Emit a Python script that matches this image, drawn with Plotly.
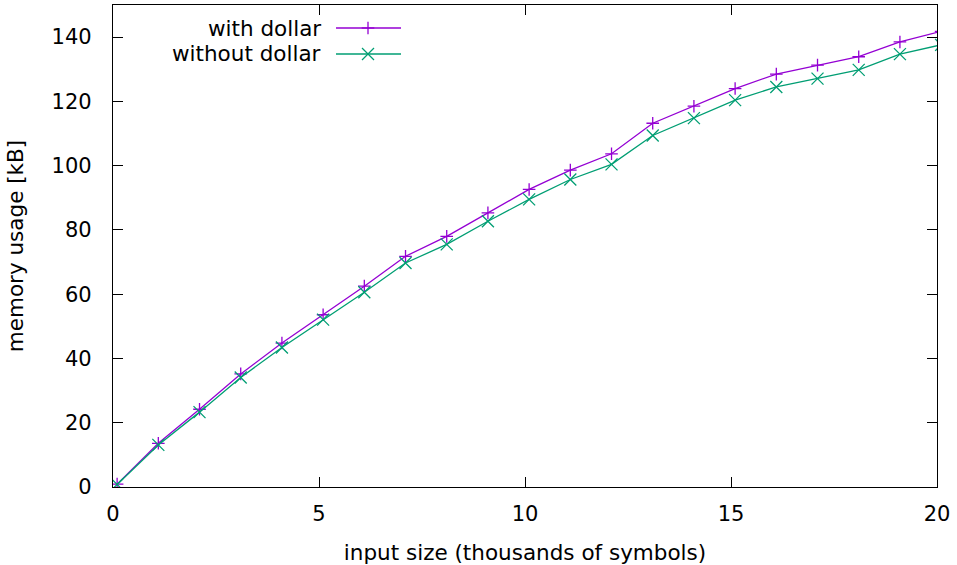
import plotly.graph_objects as go

# input sizes (thousands of symbols)
input_size = [0.1, 1.1, 2.1, 3.1, 4.1, 5.1, 6.1, 7.1, 8.1, 9.1, 10.1,
              11.1, 12.1, 13.1, 14.1, 15.1, 16.1, 17.1, 18.1, 19.1, 20.1]
with_dollar = [0.9, 13.6, 24.2, 35.2, 44.8, 53.6, 62.5, 71.8, 78.0, 85.3, 92.6,
               98.6, 103.7, 113.2, 118.5, 124.0, 128.5, 131.3, 133.9, 138.5, 141.8]
without_dollar = [0.8, 13.1, 23.3, 34.1, 43.4, 52.1, 60.6, 69.7, 75.5, 82.7, 89.5,
                  95.7, 100.4, 109.4, 114.8, 120.4, 124.5, 127.1, 129.8, 134.7, 137.6]
series_names = ["with dollar", "without dollar"]
x_ticks = [0, 5, 10, 15, 20]
y_ticks = [0, 20, 40, 60, 80, 100, 120, 140]

PURPLE = "#9400D3"
GREEN = "#009E73"
FONT = "DejaVu Sans"
FS_TICK = 21
FS = 21.5

fig = go.Figure()
fig.add_trace(go.Scatter(
    x=input_size, y=with_dollar, mode="lines+markers", name=series_names[0],
    line=dict(color=PURPLE, width=1.3),
    marker=dict(symbol="cross-thin", size=9, line=dict(color=PURPLE, width=1.3)),
    showlegend=False))
fig.add_trace(go.Scatter(
    x=input_size, y=without_dollar, mode="lines+markers", name=series_names[1],
    line=dict(color=GREEN, width=1.3),
    marker=dict(symbol="x-thin", size=12, line=dict(color=GREEN, width=1.3)),
    showlegend=False))

# manual gnuplot-style key (text on the left, sample on the right)
L, R, T, B = 113, 20, 5, 78
W, H = 957 - L - R, 565 - T - B
def px(xp):
    return (xp - L) / W
def py(yp):
    return (565 - B - yp) / H

shapes = []
annotations = []
rows = [(series_names[0], PURPLE, "plus", 28), (series_names[1], GREEN, "x", 54)]
for name, col, sym, yrow in rows:
    annotations.append(dict(text=name, x=px(323), y=py(yrow), xref="paper", yref="paper",
                            xanchor="right", yanchor="middle", showarrow=False,
                            font=dict(family=FONT, size=FS, color="black")))
    shapes.append(dict(type="line", xref="paper", yref="paper",
                       x0=px(336), x1=px(401), y0=py(yrow), y1=py(yrow),
                       line=dict(color=col, width=1.3)))
    cx, cy = 368, yrow
    if sym == "plus":
        segs = [(cx - 6.3, cy, cx + 6.3, cy), (cx, cy - 6.3, cx, cy + 6.3)]
    else:
        segs = [(cx - 6, cy - 6, cx + 6, cy + 6), (cx - 6, cy + 6, cx + 6, cy - 6)]
    for x0, y0, x1, y1 in segs:
        shapes.append(dict(type="line", xref="paper", yref="paper",
                           x0=px(x0), x1=px(x1), y0=py(y0), y1=py(y1),
                           line=dict(color=col, width=1.3)))

axis_common = dict(showline=True, linecolor="black", linewidth=1.2, mirror="allticks",
                   ticks="inside", ticklen=10, tickwidth=1, tickcolor="black",
                   showgrid=False, zeroline=False,
                   tickfont=dict(family=FONT, size=FS_TICK, color="black"))

fig.update_layout(
    width=957, height=565,
    margin=dict(l=L, r=R, t=T, b=B, autoexpand=False),
    paper_bgcolor="white", plot_bgcolor="white",
    font=dict(family=FONT, size=FS, color="black"),
    shapes=shapes, annotations=annotations,
    xaxis=dict(range=[0, 20], tickvals=x_ticks, ticktext=[str(v) for v in x_ticks],
               ticklabelstandoff=8,
               title=dict(text="input size (thousands of symbols)", standoff=20,
                          font=dict(family=FONT, size=FS)),
               **axis_common),
    yaxis=dict(range=[0, 150], tickvals=y_ticks, ticktext=[str(v) for v in y_ticks],
               ticklabelstandoff=16,
               title=dict(text="memory usage [kB]", standoff=22,
                          font=dict(family=FONT, size=FS)),
               **axis_common),
)

fig.write_html("out.html",
               config={"displayModeBar": False},
               post_script="document.body.style.margin='0';document.body.style.padding='0';")
